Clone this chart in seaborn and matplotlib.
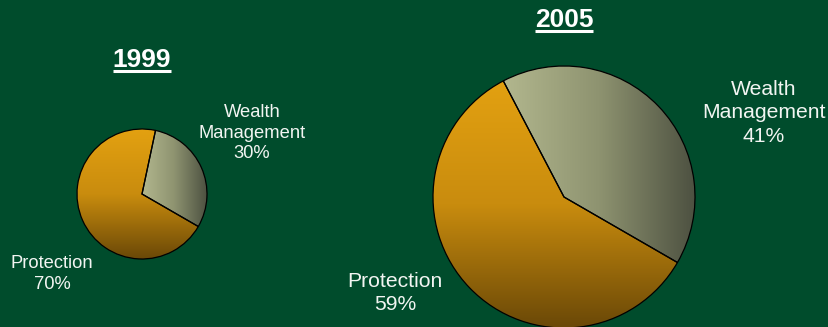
import numpy as np
import matplotlib
matplotlib.use("Agg")
import matplotlib.pyplot as plt
from matplotlib.colors import LinearSegmentedColormap
import seaborn as sns

# ---- data ----
years = ["1999", "2005"]
segments = ["Protection", "Wealth\nManagement"]
share_1999 = [70, 30]
share_2005 = [59, 41]

BG = "#004C2C"
sns.set_theme(style="dark", rc={"figure.facecolor": BG, "axes.facecolor": BG})
plt.rcParams["font.family"] = ["Liberation Sans", "DejaVu Sans"]

W, H = 829, 327
fig = plt.figure(figsize=(W / 100, H / 100), dpi=100)
ax = fig.add_axes([0, 0, 1, 1])
ax.set_facecolor(BG)

prot_cmap = LinearSegmentedColormap.from_list("prot", ["#E3A111", "#C98C0E", "#6A4807"])
wealth_cmap = LinearSegmentedColormap.from_list("wealth", ["#B2B78E", "#8E9370", "#4D5141"])

# layout (pixel space, y measured from top)
pies = [
    dict(year=years[0], shares=share_1999, cx=142, cy=194, r=65, title_y=60, fs=13.2,
         label_pos=[(52, 274), (252, 133)], ls=1.3, tfs=19),
    dict(year=years[1], shares=share_2005, cx=564, cy=197, r=131, title_y=20, fs=15.2,
         label_pos=[(395, 293), (764, 113)], ls=1.27, tfs=19),
]

for p in pies:
    center = (p["cx"], H - p["cy"])
    wedges, _ = ax.pie(p["shares"], radius=p["r"], center=center, startangle=-30,
                       counterclock=False, frame=True,
                       wedgeprops=dict(facecolor="none", edgecolor="black", linewidth=0.9, zorder=3))
    for i, w in enumerate(wedges):
        theta = np.radians(np.linspace(w.theta1, w.theta2, 100))
        xs = np.concatenate([[w.center[0]], w.center[0] + w.r * np.cos(theta)])
        ys = np.concatenate([[w.center[1]], w.center[1] + w.r * np.sin(theta)])
        x0, x1, y0, y1 = xs.min(), xs.max(), ys.min(), ys.max()
        if i == 0:
            grad = np.linspace(0, 1, 256).reshape(-1, 1)  # top -> bottom
            cmap = prot_cmap
        else:
            grad = np.linspace(0, 1, 256).reshape(1, -1)  # left -> right
            cmap = wealth_cmap
        im = ax.imshow(grad, cmap=cmap, extent=(x0, x1, y0, y1), origin="upper",
                       aspect="auto", zorder=2, interpolation="bilinear")
        im.set_clip_path(w)
    for seg, val, (lx, ly) in zip(segments, p["shares"], p["label_pos"]):
        ax.text(lx, H - ly, f"{seg}\n{val}%", ha="center", va="center",
                multialignment="center", color="#F2F5F2", fontsize=p["fs"],
                linespacing=p["ls"], zorder=5)
    t = ax.text(p["cx"], H - p["title_y"], p["year"], ha="center", va="center",
                color="white", fontsize=p["tfs"], fontweight="bold", zorder=5)
    p["title"] = t

ax.set_xlim(0, W)
ax.set_ylim(0, H)
ax.set_aspect("auto")
ax.axis("off")

fig.canvas.draw()
renderer = fig.canvas.get_renderer()
inv = ax.transData.inverted()
for p in pies:
    bb = p["title"].get_window_extent(renderer)
    (xa, ya), (xb, yb) = inv.transform([(bb.x0, bb.y0), (bb.x1, bb.y1)])
    yline = ya + 1.0
    ax.plot([xa, xb], [yline, yline], color="white", linewidth=2.2,
            solid_capstyle="butt", zorder=5)

fig.savefig("out.png", dpi=100, facecolor=BG)
